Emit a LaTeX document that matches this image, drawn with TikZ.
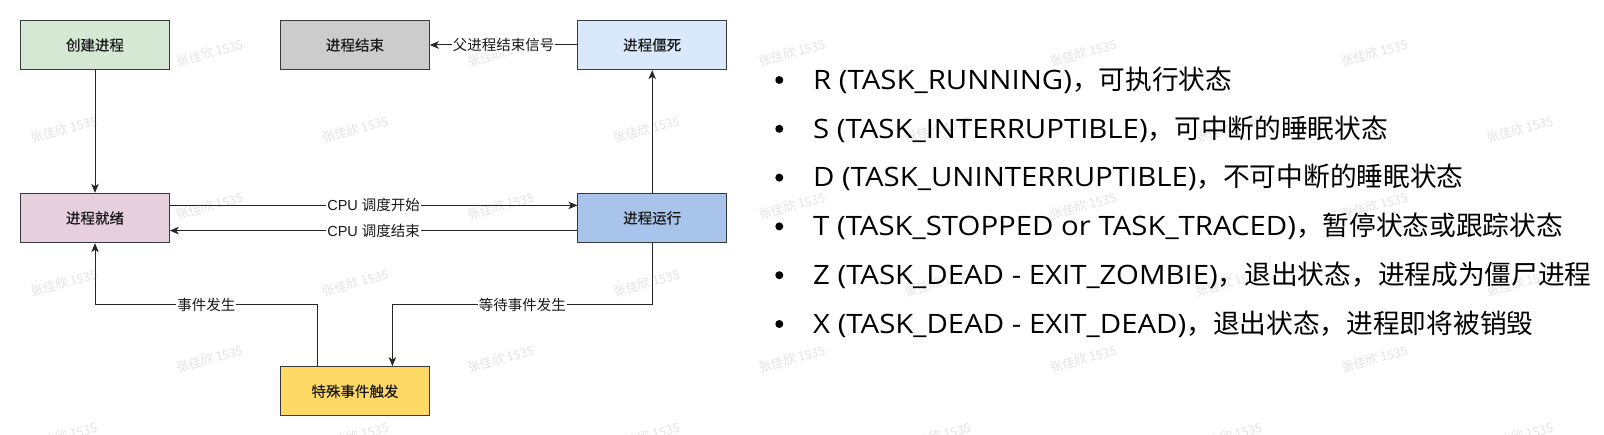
\documentclass[tikz,border=0pt]{standalone}
\usepackage{fontspec}
\setmainfont{Liberation Sans}
\newfontfamily\cjk{Noto Sans CJK SC}
\newfontfamily\cjkb[FakeBold=0.4]{Noto Sans CJK SC}
\newfontfamily\lat[FakeStretch=1.1]{Open Sans}
\usetikzlibrary{arrows.meta,calc}
\definecolor{cgreen}{HTML}{D5E8D4}
\definecolor{cgray}{HTML}{CCCCCC}
\definecolor{clblue}{HTML}{DAE8FC}
\definecolor{cpink}{HTML}{E6D0DE}
\definecolor{cblue}{HTML}{A9C4EB}
\definecolor{cyellow}{HTML}{FFD966}
\definecolor{cborder}{HTML}{36393D}
\tikzset{
  box/.style={draw=cborder, line width=1pt, minimum width=148.6pt, minimum height=49.4pt,
    inner sep=0pt, font=\fontsize{14.5pt}{16pt}\selectfont\cjkb, text=black!90},
  arr/.style={draw=black!85, line width=1pt, -{Stealth[length=9pt,width=7.5pt,inset=2.5pt]}},
  lbl/.style={fill=white, inner sep=1pt, font=\fontsize{14.5pt}{16pt}\selectfont, text=black!90},
  wm/.style={rotate=15, text=black!11, inner sep=0pt, font=\fontsize{12.5pt}{14pt}\selectfont\cjk},
  item/.style={anchor=base west, inner sep=0pt, text=black, font=\fontsize{26.7pt}{30pt}\selectfont},
  bul/.style={circle, fill=black, minimum size=8pt, inner sep=0pt}
}
\begin{document}
\begin{tikzpicture}[x=1pt,y=-1pt]
\useasboundingbox (0,0) rectangle (1604,435);
\fill[white] (0,0) rectangle (1604,435);
% watermarks
\foreach \x [count=\i] in {209.6,500.8,792,1083.2,1374.4}
  \foreach \y [count=\j] in {53,206,359}
    \node[wm] (wa\i\j) at (\x,\y) {张佳欣 1535};
\foreach \x [count=\i] in {64,355.2,646.4,937.6,1228.8,1520}
  \foreach \y [count=\j] in {129.5,283,436}
    \node[wm] (wb\i\j) at (\x,\y) {张佳欣 1535};
% boxes
\node[box, fill=cgreen]  (create) at (95,45)    {创建进程};
\node[box, fill=cgray]   (ended)  at (355,45)   {进程结束};
\node[box, fill=clblue]  (zombie) at (652.2,45) {进程僵死};
\node[box, fill=cpink]   (ready)  at (95,218)   {进程就绪};
\node[box, fill=cblue]   (run)    at (652.2,218) {进程运行};
\node[box, fill=cyellow] (evt)    at (355,391.3) {特殊事件触发};
\coordinate (mid) at (0,305);
\coordinate (e1) at ($(evt.north west)!.75!(evt.north east)$);
\coordinate (e2) at ($(evt.north west)!.25!(evt.north east)$);
\coordinate (r1) at ($(ready.north east)!.25!(ready.south east)$);
\coordinate (r2) at ($(ready.north east)!.75!(ready.south east)$);
\coordinate (u1) at ($(run.north west)!.25!(run.south west)$);
\coordinate (u2) at ($(run.north west)!.75!(run.south west)$);
% connectors
\draw[arr] (create) -- (ready);
\draw[arr] (zombie) -- node[lbl] {\cjk 父进程结束信号} (ended);
\draw[arr] (run) -- (zombie);
\draw[arr] (r1) -- node[lbl] {CPU {\cjk 调度开始}} (u1);
\draw[arr] (u2) -- node[lbl] {CPU {\cjk 调度结束}} (r2);
\draw[arr] (run.south) -- (run.south |- mid) -- node[lbl] {\cjk 等待事件发生} (e1 |- mid) -- (e1);
\draw[arr] (e2) -- (e2 |- mid) -- node[lbl] {\cjk 事件发生} (ready.south |- mid) -- (ready.south);
% list
\foreach \i/\t in {
  1/{{\lat R (TASK\_RUNNING)}{\cjk ，可执行状态}},
  2/{{\lat S (TASK\_INTERRUPTIBLE)}{\cjk ，可中断的睡眠状态}},
  3/{{\lat D (TASK\_UNINTERRUPTIBLE)}{\cjk ，不可中断的睡眠状态}},
  4/{{\lat T (TASK\_STOPPED or TASK\_TRACED)}{\cjk ，暂停状态或跟踪状态}},
  5/{{\lat Z (TASK\_DEAD - EXIT\_ZOMBIE)}{\cjk ，退出状态，进程成为僵尸进程}},
  6/{{\lat X (TASK\_DEAD - EXIT\_DEAD)}{\cjk ，退出状态，进程即将被销毁}}}
{
  \pgfmathsetmacro\by{89.3+48.8*(\i-1)}
  \node[item] (line\i) at (813,\by) {\t};
  \node[bul] (bul\i) at (779.3,\by-9.3) {};
}
\end{tikzpicture}
\end{document}
